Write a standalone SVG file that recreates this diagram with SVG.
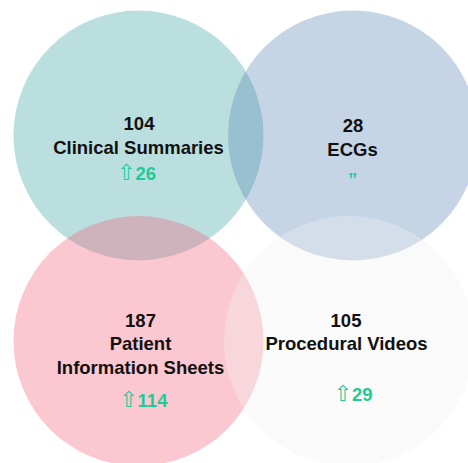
<svg xmlns="http://www.w3.org/2000/svg" width="468" height="463" viewBox="0 0 468 463">
<style>
.c{fill-opacity:0.35}
.t{font-family:"Liberation Sans",Arial,sans-serif;font-weight:bold;font-size:18.5px;fill:#111;text-anchor:middle}
.g{font-family:"Liberation Sans",Arial,sans-serif;font-weight:bold;font-size:18.5px;fill:#1ecb96;text-anchor:middle}
.a{font-family:"DejaVu Sans",sans-serif;font-weight:normal;font-size:22px}
</style>
<rect width="468" height="463" fill="#ffffff"/>
<g id="clinical">
<circle class="c" cx="138.5" cy="135.5" r="125" fill="rgb(61,164,164)"/>
</g>
<g id="ecgs">
<circle class="c" cx="353" cy="135.5" r="125" fill="rgb(89,135,184)"/>
</g>
<g id="patient">
<circle class="c" cx="138.5" cy="341" r="125" fill="rgb(244,98,126)"/>
</g>
<g id="videos">
<circle class="c" cx="349" cy="341" r="125" fill="rgb(242,242,242)"/>
</g>
<g id="labels">
<text class="t" x="139" y="130">104</text>
<text class="t" x="138.5" y="154">Clinical Summaries</text>
<text class="g" x="136.5" y="180"><tspan class="a">⇧</tspan><tspan dx="0">26</tspan></text>
<text class="t" x="353" y="132">28</text>
<text class="t" x="352.5" y="156">ECGs</text>
<text class="g" x="352.5" y="186">”</text>
<text class="t" x="140.5" y="326.5">187</text>
<text class="t" x="140.5" y="350">Patient</text>
<text class="t" x="140.5" y="374">Information Sheets</text>
<text class="g" x="143.3" y="407"><tspan class="a">⇧</tspan><tspan dx="0">114</tspan></text>
<text class="t" x="346" y="326.5">105</text>
<text class="t" x="346.5" y="350">Procedural Videos</text>
<text class="g" x="353" y="401"><tspan class="a">⇧</tspan><tspan dx="0">29</tspan></text>
</g>
</svg>
